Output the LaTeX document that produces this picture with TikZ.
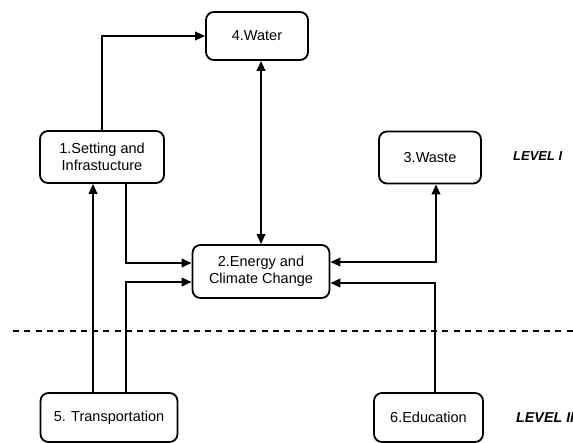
\documentclass[tikz,border=0pt]{standalone}
\usepackage{fontspec}
\setmainfont{Liberation Sans}
\usetikzlibrary{arrows.meta}
\begin{document}
\begin{tikzpicture}[x=1pt,y=1pt,
  box/.style={draw,line width=1.8pt,rounded corners=8pt,align=center,inner sep=0pt,
    font=\fontsize{14.5}{17.5}\selectfont},
  arr/.style={line width=2pt,-{Triangle[length=10pt,width=8.5pt]}},
  dbl/.style={line width=2pt,{Triangle[length=10pt,width=8.5pt]}-{Triangle[length=10pt,width=8.5pt]}},
  lvl/.style={anchor=west,inner sep=0pt,font=\fontsize{13}{15}\selectfont\bfseries\itshape}]
\useasboundingbox (0,0) rectangle (573,-443);
\node[box,minimum width=102pt,minimum height=48pt] (water) at (257,-36) {4.Water};
\node[box,minimum width=124pt,minimum height=52pt] (set) at (102,-157) {1.Setting and\\Infrastucture};
\node[box,minimum width=102pt,minimum height=52pt] (waste) at (430,-157.5) {3.Waste};
\node[box,minimum width=137pt,minimum height=53pt] (energy) at (261,-271.5) {2.Energy and\\Climate Change};
\node[box,minimum width=137pt,minimum height=49pt] (trans) at (109,-417.5) {5. Transportation};
\node[box,minimum width=109pt,minimum height=49pt] (edu) at (428.5,-417.5) {6.Education};
\node[lvl] (l1) at (513,-156) {LEVEL I};
\node[lvl,font=\fontsize{14.3}{15}\selectfont\bfseries\itshape] (l2) at (516,-418) {LEVEL II};
\coordinate (dl) at (13,-331);
\coordinate (dr) at (573,-331);
\draw[line width=2pt,dash pattern=on 6pt off 5.3pt] (dl) -- (dr);
\draw[arr] (set.north) |- (water.west);
\draw[dbl] (energy.north) -- (energy.north |- water.south);
\draw[arr] ([xshift=24pt]set.south) |- ([yshift=8.5pt]energy.west);
\draw[arr] ([xshift=-16pt]trans.north) -- ([xshift=-16pt]trans.north |- set.south);
\draw[arr] ([xshift=17pt]trans.north) |- ([yshift=-10.5pt]energy.west);
\draw[dbl] ([xshift=6pt]waste.south) |- ([yshift=9.5pt]energy.east);
\draw[arr] ([xshift=6.5pt]edu.north) |- ([yshift=-11.5pt]energy.east);
\end{tikzpicture}
\end{document}
